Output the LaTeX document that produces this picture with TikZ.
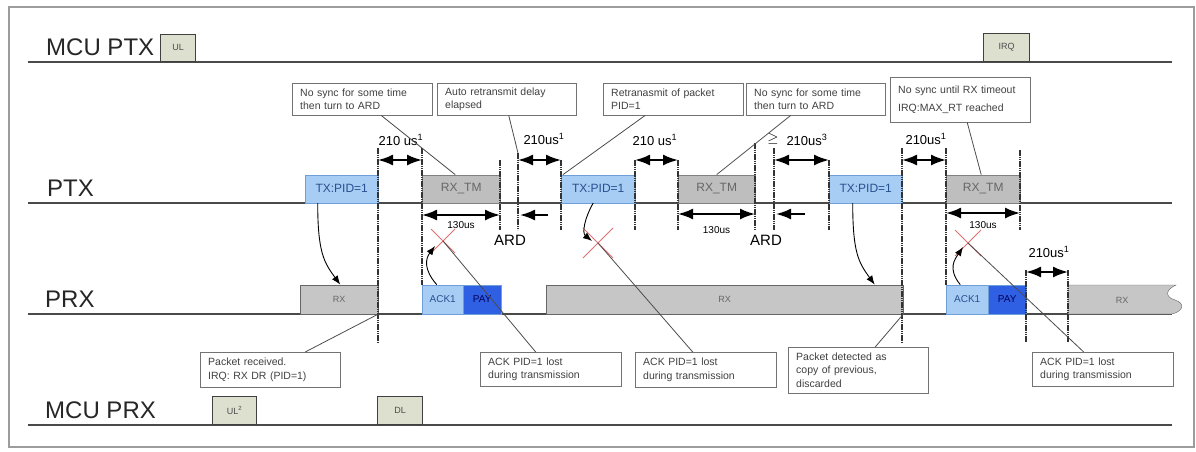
\documentclass[tikz,border=0pt]{standalone}
\usepackage{fontspec}
\setmainfont{Liberation Sans}
\usetikzlibrary{arrows.meta}

\definecolor{framegray}{HTML}{9C9C9C}
\definecolor{linegray}{HTML}{4A4A4A}
\definecolor{txfill}{HTML}{A8CDF4}
\definecolor{txdraw}{HTML}{6E9FD6}
\definecolor{txtext}{HTML}{27508F}
\definecolor{tmfill}{HTML}{BEBEBE}
\definecolor{rxfill}{HTML}{C6C6C6}
\definecolor{payfill}{HTML}{2F5FE3}
\definecolor{mcufill}{HTML}{DDE0CF}
\definecolor{lostred}{HTML}{E07070}

\newcommand{\fsz}[1]{\fontsize{#1}{#1}\selectfont}

\begin{document}
\begin{tikzpicture}[x=1pt,y=-1pt,
  timeline/.style={draw=linegray,line width=1.5pt},
  lanename/.style={anchor=base west,inner sep=0,text=black!85},
  pbox/.style={draw,anchor=south west,inner sep=0,minimum height=28pt},
  txbox/.style={pbox,fill=txfill,draw=txdraw,text=txtext,font=\fsz{12}},
  tmbox/.style={pbox,fill=tmfill,draw=gray,text=black!60,font=\fsz{12}},
  rxbox/.style={pbox,minimum height=29pt,fill=rxfill,draw=black!60,text=black!60,font=\fsz{9}},
  ackbox/.style={pbox,minimum height=29pt,fill=txfill,draw=txdraw,text=txtext,font=\fsz{10}},
  paybox/.style={pbox,minimum height=29pt,fill=payfill,draw=txdraw,text=blue!35!black,font=\fsz{10}},
  mcubox/.style={pbox,fill=mcufill,draw=black!75,line width=1.2pt,text=black!70,font=\fsz{9}},
  vmark/.style={draw=black!80,line width=1.6pt,dash pattern=on 1.6pt off 0.6pt},
  dimarrow/.style={{Latex[length=15pt,width=11pt]}-{Latex[length=15pt,width=11pt]},line width=2pt},
  ardarrow/.style={-{Latex[length=15pt,width=11pt]},line width=2pt},
  dimlabel/.style={inner sep=0,font=\fsz{13}},
  callout/.style={draw=black!55,fill=white,anchor=north west,align=left,inner xsep=8pt,
    inner ysep=0pt,text=black!75,font=\fontsize{10.5}{13.5}\selectfont},
  callline/.style={draw=black!70,line width=0.8pt},
  signal/.style={-{Latex[length=9pt,width=7pt]},line width=0.9pt},
  xmark/.style={draw=lostred,line width=1pt}]
  \useasboundingbox (0,0) rectangle (1196,451);

  % frame
  \draw[draw=framegray,line width=2pt] (9,7) rectangle (1194,447);

  % lanes
  \foreach \y in {62,203,314,425}
    {\draw[timeline] (28,\y) -- (1172,\y);}
  \node[lanename,font=\fsz{24}] (lmcuptx) at (46,55) {MCU PTX};
  \node[lanename,font=\fsz{24}] (lptx) at (47,196) {PTX};
  \node[lanename,font=\fsz{24}] (lprx) at (45,307) {PRX};
  \node[lanename,font=\fsz{24}] (lmcuprx) at (45,418) {MCU PRX};

  % MCU events
  \node[mcubox,minimum width=35pt,minimum height=27pt] (ul1) at (160,62) {UL};
  \node[mcubox,minimum width=46pt] (irq) at (983,62) {IRQ};
  \node[mcubox,minimum width=44pt] (ul2) at (212,425) {UL\textsuperscript{2}};
  \node[mcubox,minimum width=45pt] (dl) at (377,425) {DL};

  % PTX packets
  \node[txbox,minimum width=73pt] (tx1) at (305,203) {TX:PID=1};
  \node[tmbox,minimum width=78pt] (rxtm1) at (422,203) {RX\_TM};
  \node[txbox,minimum width=74pt] (tx2) at (561,203) {TX:PID=1};
  \node[tmbox,minimum width=77pt] (rxtm2) at (678,203) {RX\_TM};
  \node[txbox,minimum width=73pt] (tx3) at (829,203) {TX:PID=1};
  \node[tmbox,minimum width=74pt] (rxtm3) at (946,203) {RX\_TM};

  % PRX packets
  \node[rxbox,minimum width=78pt] (rx1) at (300,314) {RX};
  \node[ackbox,minimum width=41pt] (ack1) at (422,314) {ACK1};
  \node[paybox,minimum width=38pt] (pay1) at (463,314) {PAY};
  \node[rxbox,minimum width=357pt] (rx2) at (546,314) {RX};
  \node[ackbox,minimum width=42pt] (ack2) at (946,314) {ACK1};
  \node[paybox,minimum width=38pt] (pay2) at (988,314) {PAY};
  \filldraw[fill=rxfill,draw=black!60] (1068,314) -- (1068,285) -- (1176,285)
    .. controls (1165,290) and (1165,297) .. (1175,300)
    .. controls (1185,303) and (1184,311) .. (1172,314) -- cycle;
  \node[text=black!60,font=\fsz{9}] (rx3) at (1122,300) {RX};

  % time marks
  \foreach \x/\ya/\yb in {378/148/342, 422/148/285, 500/160/230, 518/153/230,
      561/160/230, 635/160/230, 678/160/230, 755/143/230, 774/148/230,
      829/160/230, 902/148/342, 946/148/285, 1020/150/230, 1026/270/342, 1068/270/342}
    {\draw[vmark] (\x,\ya) -- (\x,\yb);}
  \coordinate (ard1) at (518,153);

  % 210us gaps
  \foreach \a/\b/\y in {378/422/160, 518/561/160, 635/678/160, 774/829/160, 902/946/160, 1026/1068/272}
    {\draw[dimarrow] (\a,\y) -- (\b,\y);}
  \foreach \x/\y/\t [count=\i] in {401/140/210 us, 544/139/210us, 655/140/210 us, 926/139/210us, 1049/252/210us}
    {\node[dimlabel] (gap\i) at (\x,\y) {\t\textsuperscript{1}};}
  \node[dimlabel] (gap6) at (807,140) {210us\textsuperscript{3}};
  \node[dimlabel,font=\fsz{14}] (geq) at (773,139) {$\geq$};

  % 130us turnaround
  \foreach \a/\b/\y/\ly [count=\i] in {422/500/215/225, 678/755/214/230, 946/1020/213/225}
    {\draw[dimarrow] (\a,\y) -- (\b,\y);
     \node[dimlabel,font=\fsz{10}] (ta\i) at ({(\a+\b)/2},\ly) {130us};}

  % ARD
  \draw[ardarrow] (548,215) -- (520,215);
  \draw[ardarrow] (805,214) -- (776,214);
  \node[font=\fsz{15}] (ardlab1) at (510,240) {ARD};
  \node[font=\fsz{15}] (ardlab2) at (766,240) {ARD};

  % lost packets
  \foreach \n/\x/\y/\r in {x1/443/241/12, x2/598/243/15, x3/968/243/13}
    {\coordinate (\n) at (\x,\y);
     \draw[xmark] (\x-\r,\y-\r) -- (\x+\r,\y+\r) (\x-\r,\y+\r) -- (\x+\r,\y-\r);}

  % air signals
  \draw[signal] ([xshift=-24pt]tx1.south) .. controls +(0,50) and +(-16,-22) .. ([xshift=1pt]rx1.north);
  \draw[signal] ([xshift=-6pt]ack1.north) .. controls +(-14,-16) and +(-9,12) .. ([xshift=-8pt,yshift=-5pt]x1);
  \draw[signal] ([xshift=-5pt]tx2.south) .. controls +(-9,16) and +(-10,-8) .. ([xshift=-6pt,yshift=2pt]x2);
  \draw[signal] ([xshift=-13pt]tx3.south) .. controls +(0,50) and +(-16,-22) .. ([xshift=150pt]rx2.north);
  \draw[signal] ([xshift=-7pt]ack2.north) .. controls +(-13,-16) and +(-8,12) .. ([xshift=-5pt,yshift=-4pt]x3);

  % callouts
  \node[callout,text width=124pt,minimum height=32pt] (cA) at (292,83) {No sync for some time\\then turn to ARD};
  \node[callout,text width=123pt,minimum height=32pt] (cB) at (437,83) {Auto retransmit delay\\elapsed};
  \node[callout,text width=124pt,minimum height=32pt] (cC) at (603,83) {Retranasmit of packet\\PID=1};
  \node[callout,text width=123pt,minimum height=32pt] (cD) at (746,83) {No sync for some time\\then turn to ARD};
  \node[callout,text width=124pt,minimum height=45pt] (cE) at (890,77) {No sync until RX timeout\\[5pt]IRQ:MAX\_RT reached};
  \node[callout,text width=124pt,minimum height=35pt] (cF) at (200,352) {Packet received.\\IRQ: RX DR (PID=1)};
  \node[callout,text width=125pt,minimum height=34pt] (cG) at (480,352) {ACK PID=1 lost\\during transmission};
  \node[callout,text width=125pt,minimum height=35pt] (cH) at (635,352) {ACK PID=1 lost\\during transmission};
  \node[callout,text width=124pt,minimum height=46pt] (cI) at (788,347) {Packet detected as\\copy of previous,\\discarded};
  \node[callout,text width=125pt,minimum height=34pt] (cJ) at (1032,352) {ACK PID=1 lost\\during transmission};

  \draw[callline] ([xshift=19pt]cA.south) -- ([xshift=-6pt]rxtm1.north);
  \draw[callline] ([xshift=2pt]cB.south) -- (ard1);
  \draw[callline] ([xshift=-28pt]cC.south) -- ([xshift=2pt]tx2.north west);
  \draw[callline] ([xshift=-25pt]cD.south) -- (rxtm2.north);
  \draw[callline] ([xshift=7pt]cE.south) -- ([xshift=-2pt]rxtm3.north);
  \draw[callline] ([xshift=35pt]cF.north) -- (rx1.south east);
  \draw[callline] ([xshift=-15pt]cG.north) -- (x1);
  \draw[callline] ([xshift=-13pt]cH.north) -- (x2);
  \draw[callline] ([xshift=17pt]cI.north) -- (rx2.south east);
  \draw[callline] ([xshift=-19pt]cJ.north) -- (x3);
\end{tikzpicture}
\end{document}
